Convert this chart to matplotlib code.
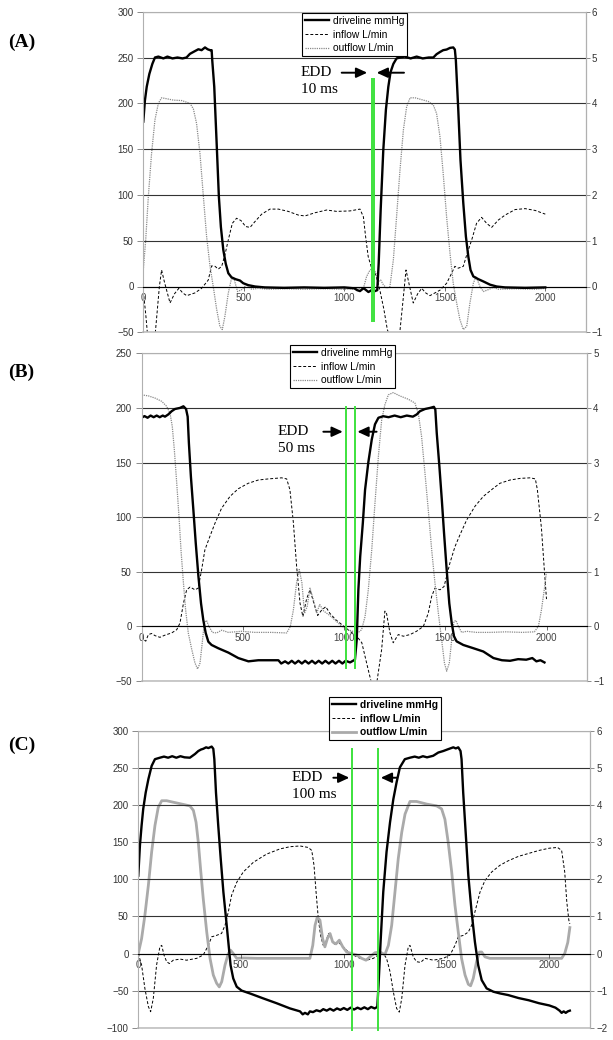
import matplotlib
matplotlib.use("Agg")
import matplotlib.pyplot as plt

# ---------------- data ----------------
# time in ms, driveline in mmHg (left axis), flows in L/min (right axis)

# panel A  (EDD 10 ms)
a_drive_t = [0, 8, 17, 30, 45, 58, 75, 100, 120, 145, 170, 195, 215, 232, 257, 274, 290, 307, 320, 332, 340,
             343, 353, 365, 376, 386, 398, 410, 423, 439, 459, 481, 497, 522, 556, 605, 700, 800, 900, 1000,
             1050, 1064, 1078, 1095, 1103, 1120, 1136, 1153, 1164, 1171, 1181, 1194, 1207, 1219, 1230, 1244,
             1260, 1277, 1300, 1330, 1360, 1390, 1420, 1443, 1459, 1476, 1492, 1509, 1526, 1542, 1550, 1555,
             1567, 1578, 1592, 1605, 1617, 1628, 1642, 1667, 1692, 1725, 1758, 1800, 1900, 2000]
a_drive_v = [180, 203, 218, 232, 243, 250, 251, 249, 251, 249, 250, 249, 250, 254, 257, 259, 258, 261, 259, 258, 258,
             247, 218, 156, 98, 65, 40, 25, 14.5, 10, 8, 6.5, 3.6, 1.5, 0, -1, -1.5, -1, -1.5, -1,
             -2, -4, -5, -2, -3, -6, -4, -5, -4, 25, 84, 149, 193, 218, 234, 243,
             249, 250, 251, 249, 251, 249, 250, 250, 253.6, 256, 258, 258.7, 260.5, 261, 258.7, 247,
             193, 138, 91, 54.5, 32.7, 18, 11, 8, 5.5, 2, 0, -1, -1.5, -1]
a_in_t = [0, 12, 22, 40, 58, 70, 80, 91, 105, 133, 155, 177, 196, 216, 257, 290, 323, 340, 357, 373, 390, 406,
          423, 443, 464, 486, 509, 531, 556, 589, 630, 672, 721, 771, 804, 854, 912, 962, 1028, 1078, 1095,
          1106, 1119, 1136, 1153, 1164, 1177, 1197, 1214, 1236, 1255, 1275, 1290, 1307, 1325, 1343, 1365,
          1385, 1405, 1426, 1476, 1509, 1534, 1550, 1567, 1592, 1609, 1634, 1658, 1683, 1708, 1733, 1766,
          1800, 1850, 1900, 1950, 2000]
a_in_v = [-0.10, -0.60, -1.10, -1.50, -1.10, -0.50, 0.0, 0.36, 0.10, -0.36, -0.16, -0.04, -0.14, -0.20, -0.14,
          -0.04, 0.14, 0.45, 0.44, 0.38, 0.44, 0.69, 1.02, 1.38, 1.49, 1.44, 1.31, 1.29, 1.42, 1.58, 1.69, 1.69,
          1.64, 1.56, 1.54, 1.61, 1.67, 1.64, 1.65, 1.69, 1.52, 1.09, 0.65, 0.40, 0.29, 0.14, -0.08, -0.50,
          -0.94, -1.20, -1.40, -1.05, -0.40, 0.36, 0.0, -0.36, -0.16, -0.04, -0.14, -0.20, -0.08, 0.07, 0.29,
          0.44, 0.40, 0.44, 0.69, 1.02, 1.38, 1.51, 1.38, 1.29, 1.45, 1.56, 1.68, 1.70, 1.66, 1.58]
a_out_t = [0, 12, 25, 41, 58, 75, 91, 116, 149, 191, 232, 249, 265, 282, 299, 315, 332, 348, 365, 381, 393, 406,
           423, 439, 453, 469, 489, 514, 539, 572, 620, 700, 800, 900, 1000, 1095, 1111, 1128, 1144, 1157, 1169,
           1181, 1194, 1211, 1227, 1244, 1260, 1277, 1294, 1310, 1327, 1352, 1385, 1418, 1443, 1459, 1476,
           1492, 1509, 1526, 1542, 1559, 1575, 1592, 1609, 1625, 1642, 1655, 1675, 1692, 1716, 1741, 1766,
           1850, 1950, 2000]
a_out_v = [0.36, 1.02, 1.96, 2.90, 3.64, 4.00, 4.12, 4.10, 4.07, 4.06, 4.00, 3.88, 3.56, 2.90, 1.96, 1.09, 0.44,
           0.0, -0.50, -0.87, -0.94, -0.65, -0.14, 0.18, 0.14, -0.11, -0.07, 0.04, -0.06, -0.04, -0.06, -0.05,
           -0.06, -0.05, -0.06, -0.04, 0.22, 0.36, 0.40, 0.29, 0.11, 0.14, 0.04, -0.04, 0.0, 0.58, 1.52, 2.54,
           3.42, 3.92, 4.12, 4.12, 4.08, 4.04, 3.96, 3.78, 3.27, 2.47, 1.52, 0.72, 0.07, -0.36, -0.72, -0.94,
           -0.87, -0.36, 0.07, 0.22, 0.0, -0.11, -0.07, -0.02, -0.06, -0.05, -0.06, -0.04]
a_edd = [1140, 1149]

# panel B  (EDD 50 ms)
b_drive_t = [0, 15, 30, 45, 60, 75, 90, 105, 116, 132, 149, 165, 190, 207, 220, 228, 234, 244, 256, 268, 281,
             294, 305, 317, 330, 346, 379, 429, 478, 528, 577, 626, 676, 690, 709, 725, 742, 758, 775, 792, 808,
             825, 842, 858, 875, 892, 908, 925, 942, 958, 975, 992, 1008, 1030, 1054, 1063, 1071, 1080, 1093,
             1104, 1120, 1137, 1153, 1170, 1194, 1220, 1250, 1280, 1310, 1340, 1359, 1375, 1400, 1425, 1444,
             1451, 1458, 1471, 1483, 1494, 1507, 1520, 1532, 1543, 1556, 1589, 1639, 1688, 1738, 1780, 1820,
             1860, 1900, 1930, 1950, 1970, 1990]
b_drive_v = [191, 192.5, 191, 193, 191.5, 193, 191.5, 193, 192, 194, 197, 199, 200, 201.5, 199, 192, 168, 137,
             107, 76, 46, 21, 6, -6, -14, -17, -20, -24, -29, -32, -31, -31, -31, -34, -32, -34, -31.5, -34,
             -31.5, -34, -31.5, -34, -31.5, -34, -31.5, -34, -31.5, -34, -31.5, -34, -31.5, -34, -31.5, -33,
             -30.5, -12, 33.6, 64, 94.7, 125, 150, 171, 185, 191, 192.4, 191.5, 193, 191.5, 193, 192, 194,
             197, 199, 200, 201, 198.5, 177, 146.6, 116, 85.5, 52, 21, 3, -9, -13.7, -17, -20, -23, -29, -31,
             -31.5, -30, -30.5, -29, -32, -31, -33]
b_in_t = [0, 9, 21, 34, 50, 67, 91, 116, 149, 174, 190, 207, 223, 240, 264, 280, 297, 313, 338, 363, 395, 437,
          478, 527, 577, 626, 692, 717, 733, 750, 766, 783, 797, 815, 832, 850, 870, 890, 910, 930, 960, 1000,
          1030, 1063, 1088, 1104, 1120, 1132, 1148, 1164, 1186, 1202, 1210, 1227, 1243, 1268, 1293, 1326,
          1358, 1392, 1416, 1433, 1449, 1474, 1494, 1507, 1523, 1548, 1573, 1606, 1647, 1688, 1738, 1770,
          1820, 1870, 1920, 1945, 1955, 1975, 1990, 2000]
b_in_v = [0.0, -0.24, -0.27, -0.15, -0.13, -0.17, -0.20, -0.16, -0.12, -0.06, 0.06, 0.42, 0.67, 0.72, 0.67,
          0.70, 1.04, 1.40, 1.65, 1.89, 2.16, 2.38, 2.52, 2.62, 2.68, 2.70, 2.72, 2.70, 2.50, 1.90, 1.10, 0.42,
          0.18, 0.50, 0.67, 0.44, 0.20, 0.30, 0.36, 0.24, 0.12, 0.0, -0.09, -0.18, -0.30, -0.55, -0.80, -0.98,
          -1.20, -0.98, -0.42, 0.28, 0.24, -0.12, -0.30, -0.15, -0.18, -0.15, -0.09, 0.0, 0.24, 0.55, 0.70,
          0.67, 0.73, 0.92, 1.16, 1.46, 1.68, 1.95, 2.20, 2.38, 2.53, 2.62, 2.68, 2.71, 2.72, 2.70, 2.50,
          1.80, 1.00, 0.50]
b_out_t = [0, 34, 67, 100, 124, 141, 152, 162, 174, 185, 195, 207, 218, 231, 248, 264, 277, 289, 300, 310, 321,
           333, 350, 371, 396, 429, 494, 560, 642, 717, 735, 750, 766, 779, 792, 805, 818, 832, 848, 865, 880,
           900, 930, 960, 990, 1020, 1050, 1075, 1087, 1104, 1120, 1137, 1153, 1170, 1186, 1202, 1219, 1243,
           1276, 1317, 1350, 1367, 1383, 1400, 1416, 1433, 1449, 1466, 1482, 1496, 1507, 1520, 1532, 1543,
           1553, 1565, 1581, 1606, 1655, 1721, 1800, 1880, 1940, 1960, 1975, 1990, 2000]
b_out_v = [4.24, 4.22, 4.18, 4.12, 4.03, 3.90, 3.66, 3.24, 2.62, 2.02, 1.40, 0.80, 0.30, -0.12, -0.42, -0.67,
           -0.78, -0.67, -0.30, 0.06, 0.11, 0.0, -0.11, -0.12, -0.07, -0.11, -0.09, -0.11, -0.11, -0.12, 0.0,
           0.30, 0.80, 1.04, 0.80, 0.24, 0.36, 0.70, 0.50, 0.24, 0.40, 0.28, 0.20, 0.10, 0.0, -0.06, -0.10,
           -0.10, -0.06, 0.18, 0.67, 1.40, 2.26, 3.12, 3.78, 4.06, 4.24, 4.28, 4.22, 4.16, 4.09, 3.90, 3.48,
           2.80, 2.14, 1.40, 0.80, 0.24, -0.24, -0.67, -0.82, -0.67, -0.24, 0.09, 0.11, 0.0, -0.11, -0.09,
           -0.11, -0.11, -0.10, -0.11, -0.10, 0.0, 0.30, 0.70, 1.00]
b_edd = [1010, 1056]

# panel C  (EDD 100 ms)
c_drive_t = [0, 8, 16, 24, 36, 49, 65, 81, 105, 125, 145, 165, 185, 205, 225, 251, 276, 292, 305, 316, 330,
             341, 357, 365, 370, 378, 389, 401, 414, 427, 438, 449, 462, 479, 503, 543, 608, 673, 738, 787, 800,
             811, 825, 835, 850, 867, 885, 900, 917, 933, 950, 967, 983, 1000, 1017, 1033, 1050, 1067, 1083,
             1100, 1117, 1133, 1150, 1163, 1169, 1179, 1192, 1208, 1225, 1241, 1257, 1273, 1297, 1322, 1345,
             1365, 1385, 1405, 1435, 1460, 1484, 1508, 1533, 1545, 1557, 1568, 1573, 1581, 1594, 1606, 1622,
             1638, 1654, 1671, 1695, 1728, 1760, 1800, 1850, 1900, 1950, 2000, 2030, 2050, 2060, 2070, 2080,
             2090, 2100]
c_drive_v = [105, 146, 172.5, 195, 217, 235, 253, 262, 264, 265.5, 264, 266, 264, 266, 264.5, 264, 269, 273,
             275, 276, 278, 277, 279, 276, 262, 217, 172.5, 128, 83, 47, 15.7, -15.7, -33.6, -44.8, -50, -53.8,
             -60.5, -67, -74, -78, -82, -80, -82, -78, -79, -76.5, -78, -75, -77, -74.5, -77, -74, -76, -73.5,
             -76, -73, -75.5, -73, -75, -72.5, -75, -72, -74, -72, -42.6, 15.7, 83, 137, 177, 208, 231, 251,
             262, 264, 265.5, 264, 266, 264.5, 266.6, 271, 273, 275.5, 278, 276.5, 278, 273, 262, 217, 159, 105,
             56, 15.7, -15.7, -35.8, -47, -51.5, -53.8, -56, -60, -63, -67, -70, -73, -77, -80, -78, -80, -78,
             -77]
c_in_t = [0, 16, 32, 49, 60, 73, 89, 105, 114, 125, 138, 151, 170, 203, 235, 284, 316, 341, 357, 381, 405, 422,
          438, 454, 479, 511, 560, 624, 689, 738, 787, 827, 844, 855, 865, 876, 887, 900, 913, 925, 941, 957,
          973, 997, 1022, 1046, 1079, 1111, 1144, 1168, 1192, 1208, 1225, 1241, 1257, 1270, 1282, 1298, 1314,
          1322, 1338, 1354, 1374, 1395, 1436, 1484, 1517, 1541, 1557, 1582, 1606, 1622, 1638, 1663, 1687,
          1720, 1760, 1800, 1850, 1900, 1950, 2000, 2040, 2060, 2075, 2085, 2095, 2100]
c_in_v = [0.0, -0.31, -0.94, -1.43, -1.57, -1.21, -0.31, 0.18, 0.22, -0.04, -0.22, -0.27, -0.18, -0.15, -0.18,
          -0.13, -0.04, 0.22, 0.45, 0.49, 0.54, 0.76, 1.12, 1.57, 1.92, 2.20, 2.46, 2.68, 2.82, 2.88, 2.90,
          2.86, 2.78, 2.38, 1.66, 0.94, 0.49, 0.22, 0.31, 0.54, 0.40, 0.22, 0.31, 0.18, 0.04, -0.04, -0.13,
          -0.18, -0.13, -0.04, 0.0, -0.13, -0.49, -1.03, -1.48, -1.58, -1.21, -0.31, 0.18, 0.22, -0.09, -0.22,
          -0.24, -0.13, -0.18, -0.13, -0.04, 0.22, 0.45, 0.49, 0.58, 0.76, 1.12, 1.66, 1.97, 2.20, 2.38, 2.50,
          2.62, 2.70, 2.78, 2.84, 2.86, 2.78, 2.20, 1.40, 0.90, 0.80]
c_out_t = [0, 16, 32, 49, 65, 81, 97, 114, 138, 170, 211, 251, 268, 281, 292, 303, 316, 333, 349, 365, 381, 394,
           406, 422, 438, 449, 462, 479, 511, 576, 706, 835, 849, 860, 871, 884, 897, 908, 920, 933, 946, 962,
           978, 995, 1014, 1038, 1063, 1087, 1108, 1127, 1151, 1176, 1200, 1217, 1233, 1249, 1265, 1282, 1298,
           1322, 1354, 1403, 1452, 1476, 1492, 1508, 1525, 1541, 1557, 1573, 1590, 1606, 1617, 1630, 1646,
           1660, 1671, 1687, 1711, 1760, 1900, 2060, 2075, 2090, 2100]
c_out_v = [0.0, 0.40, 1.03, 1.84, 2.74, 3.45, 3.94, 4.12, 4.12, 4.08, 4.03, 3.98, 3.86, 3.54, 3.00, 2.28, 1.48,
           0.58, -0.13, -0.58, -0.80, -0.90, -0.76, -0.31, 0.0, 0.09, 0.0, -0.13, -0.12, -0.13, -0.13, -0.13,
           0.22, 0.76, 0.98, 0.90, 0.40, 0.18, 0.40, 0.54, 0.31, 0.26, 0.36, 0.18, 0.04, 0.0, -0.04, -0.13,
           -0.18, -0.09, 0.02, 0.04, -0.03, 0.22, 0.76, 1.66, 2.56, 3.27, 3.76, 4.10, 4.10, 4.03, 3.98, 3.90,
           3.62, 3.00, 2.20, 1.30, 0.58, -0.13, -0.58, -0.83, -0.87, -0.67, -0.22, 0.04, 0.04, -0.09, -0.13,
           -0.13, -0.13, -0.13, 0.0, 0.30, 0.70]
c_edd = [1038, 1164]

labels = ['driveline mmHg', 'inflow L/min', 'outflow L/min']

W, H = 613, 1040
fig = plt.figure(figsize=(W / 100, H / 100), dpi=100)
fig.patch.set_facecolor('white')

sans = 'Liberation Sans'
serif = 'Liberation Serif'
green = '#3de23d'


def px_axes(left, right, top, bottom):
    return fig.add_axes([left / W, 1 - bottom / H, (right - left) / W, (bottom - top) / H])


def panel(rect, ylim, yticks, y2ticks, drive, inflow, outflow, edd, edd_span, arrows, text_pos, ms_text,
          letter, letter_y, leg_xy, out_style, leg_bold=False):
    ax = px_axes(*rect)
    ax2 = ax.twinx()
    ax.set_zorder(2)
    ax2.set_zorder(1)
    ax.patch.set_visible(False)

    ax.set_xlim(0, 2200)
    ax.set_ylim(*ylim)
    ax2.set_ylim(ylim[0] / 50, ylim[1] / 50)

    ln_in, = ax2.plot(inflow[0], inflow[1], color='black', lw=0.7, ls=(0, (3, 2)))
    ln_out, = ax2.plot(outflow[0], outflow[1], **out_style)
    ln_dr, = ax.plot(drive[0], drive[1], color='black', lw=1.7)

    for x in edd:
        ax.plot([x, x], edd_span, color=green, lw=1.4, clip_on=False, zorder=5)

    # horizontal grid
    ax.set_yticks(yticks)
    ax.yaxis.grid(True, color='#333333', lw=0.8)
    ax.set_axisbelow(True)
    ax2.set_yticks(y2ticks)

    # category axis crossing at 0
    ax.spines['bottom'].set_position(('data', 0))
    ax.spines['bottom'].set_color('black')
    ax.spines['bottom'].set_linewidth(0.8)
    for s in ['left', 'top', 'right']:
        ax.spines[s].set_color('#b0b0b0')
    for s in ['left', 'top', 'bottom']:
        ax2.spines[s].set_visible(False)
    ax2.spines['right'].set_color('#909090')
    ax.axhline(ylim[0], color='#c0c0c0', lw=1.2, clip_on=False, zorder=1)

    ax.set_xticks([0, 500, 1000, 1500, 2000])
    ax.tick_params(axis='x', length=3, width=0.6, color='#555555', pad=2,
                   labelsize=7, labelcolor='#444444')
    ax.tick_params(axis='y', length=4, width=0.6, color='#777777', pad=3,
                   labelsize=7, labelcolor='#333333')
    ax2.tick_params(axis='y', length=3, width=0.6, color='#777777', pad=1.5,
                    labelsize=7, labelcolor='#333333')
    for lab in ax.get_xticklabels() + ax.get_yticklabels() + ax2.get_yticklabels():
        lab.set_fontfamily(sans)

    # EDD annotation
    for (x0, x1) in arrows:
        ax.annotate('', xy=(x1, text_pos[1]), xytext=(x0, text_pos[1]),
                    arrowprops=dict(arrowstyle='-|>,head_length=0.65,head_width=0.3', color='black',
                                    lw=1.4, shrinkA=0, shrinkB=0), zorder=6)
    ax.text(text_pos[0], text_pos[1], 'EDD', family=serif, fontsize=11, ha='left', va='center', zorder=6)
    ax.text(text_pos[0], text_pos[2], ms_text, family=serif, fontsize=11, ha='left', va='center', zorder=6)

    fig.text(8 / W, 1 - letter_y / H, letter, family=serif, fontweight='bold', fontsize=14,
             ha='left', va='center')

    leg = ax.legend([ln_dr, ln_in, ln_out], labels, loc='upper left',
                    bbox_to_anchor=(leg_xy[0] / W, 1 - leg_xy[1] / H), bbox_transform=fig.transFigure,
                    prop={'family': sans, 'size': 7.4, 'weight': 'bold' if leg_bold else 'normal'},
                    frameon=True, fancybox=False, framealpha=1, edgecolor='black', borderpad=0.3,
                    labelspacing=0.35, handlelength=2.3, handletextpad=0.4, borderaxespad=0)
    leg.get_frame().set_linewidth(0.8)
    leg.set_zorder(10)
    return ax


dotted_gray = dict(color='#8a8a8a', lw=0.9, ls=(0, (1, 0.8)))

panel((143.3, 585.5, 11.7, 332.3), (-50, 300), range(-50, 301, 50), range(-1, 7),
      (a_drive_t, a_drive_v), (a_in_t, a_in_v), (a_out_t, a_out_v), a_edd, [-38, 227],
      [(987, 1114), (1297, 1161)], (783, 233.4, 215.3), '10 ms', '(A)', 42, (302, 13), dotted_gray)

panel((141.5, 587, 353.3, 681), (-50, 250), range(-50, 251, 50), range(-1, 6),
      (b_drive_t, b_drive_v), (b_in_t, b_in_v), (b_out_t, b_out_v), b_edd, [-38, 201],
      [(898, 994), (1161, 1066)], (673, 178.2, 163), '50 ms', '(B)', 372, (290, 345), dotted_gray)

panel((138.3, 590.4, 731, 1027.7), (-100, 300), range(-100, 301, 50), range(-2, 7),
      (c_drive_t, c_drive_v), (c_in_t, c_in_v), (c_out_t, c_out_v), c_edd, [-103, 276],
      [(949, 1027), (1260, 1180)], (748, 237, 214), '100 ms', '(C)', 745, (329, 697),
      dict(color='#aaaaaa', lw=2.0), leg_bold=True)

fig.savefig('out.png', dpi=100, facecolor='white')
